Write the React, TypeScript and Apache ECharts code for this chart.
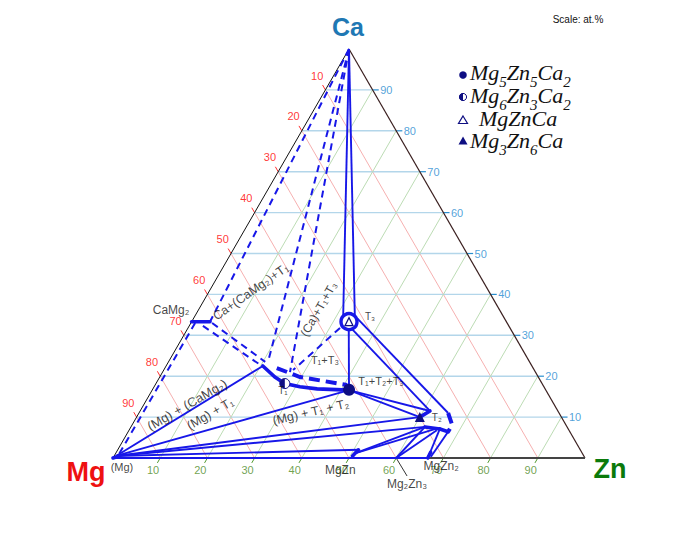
import React, { useEffect, useRef } from "react";
import * as echarts from "echarts";

type Comp = [number, number, number]; // [Mg, Zn, Ca] in at.%

const H = Math.sqrt(3) / 2;

// axis ticks (at.%)
const ticks = [10, 20, 30, 40, 50, 60, 70, 80, 90];

// corners
const CA: Comp = [0, 0, 100];
const MG: Comp = [100, 0, 0];
const ZN: Comp = [0, 100, 0];

// key phase-boundary compositions
const mgSolid: Comp = [99.1, 0.4, 0.5];
const caMg2L: Comp = [66.7, 0, 33.3];
const caMg2R: Comp = [62.8, 3.9, 33.3];
const t1L: Comp = [57.0, 20.5, 22.5];
const t1R: Comp = [41.7, 41.7, 16.6];
const t3L: Comp = [34.4, 31.9, 33.7];
const t3R: Comp = [31.9, 34.4, 33.7];
const t2A: Comp = [30, 60, 10];
const t2B: Comp = [27.1, 61.4, 11.5];
const t2C: Comp = [23.5, 65.5, 11.0];
const t2D: Comp = [24.1, 67.8, 8.1];
const t2E: Comp = [25.8, 67.8, 6.4];
const t2F: Comp = [27.2, 65.7, 7.1];
const t2G: Comp = [30.1, 62.3, 7.6];
const mgZnP: Comp = [48, 50.8, 1.2];
const mgZnP2: Comp = [47, 51, 2];
const mg2Zn3: Comp = [40, 60, 0];
const mgZn2: Comp = [33.3, 66.7, 0];

const solidLines: Comp[][] = [
  [CA, t3L],
  [CA, t3R],
  [[34.3, 34.2, 31.5], t1R],
  [[33.7, 34.5, 31.8], t2B],
  [[31.2, 34.6, 34.2], t2C],
  [t1R, t2B],
  [t1R, t2A],
  [mgSolid, t1L],
  [mgSolid, t1R],
  [mgSolid, t2A],
  [mgSolid, t2G],
  [mgSolid, mgZnP2],
  [mgZnP, t2G],
  [mgZnP, [28.5, 64.5, 7.0]],
  [mg2Zn3, t2G],
  [mg2Zn3, [28, 65.2, 6.8]],
  [mgZn2, t2F],
  [[32.5, 67.2, 0.3], t2E],
  [MG, mgZn2],
];

const thickLines: Comp[][] = [
  [t1L, [55.8, 24.4, 19.8], [54.5, 27.3, 18.2], [51.7, 30.9, 17.4], [48.3, 34.8, 16.9], t1R],
  [caMg2L, caMg2R],
  [t2G, t2F],
  [t2A, t2B],
  [t2E, t2F],
  [[49, 50.5, 0.5], mgZnP2],
  [MG, [98.4, 1.1, 0.5]],
  [mgZn2, [32, 66.6, 1.4]],
];

const dashedLines: Comp[][] = [
  [CA, caMg2R],
  [[66.1, 0.9, 33.0], [98.7, 0.8, 0.5]],
  [CA, [55.4, 21.1, 23.5]],
  [CA, [52, 27, 21]],
  [[36, 32.2, 31.8], [51.1, 27.4, 21.5]],
  [[62.5, 4.5, 33.0], [56.0, 20.5, 23.5]],
  [[64.8, 2.9, 32.3], [57.2, 20.3, 22.5]],
];

const thickDashedLines: Comp[][] = [
  [[54.3, 23.7, 22], [50.5, 29.7, 19.8], [41.5, 40.7, 17.85]],
  [t2C, t2D, t2E],
];

// compounds (markers)
const compoundNames = ["Mg5Zn5Ca2", "Mg6Zn3Ca2", "MgZnCa", "Mg3Zn6Ca"];
const compoundFormula: [string, string][][] = [
  [["Mg", "5"], ["Zn", "5"], ["Ca", "2"]],
  [["Mg", "6"], ["Zn", "3"], ["Ca", "2"]],
  [["Mg", ""], ["Zn", ""], ["Ca", ""]],
  [["Mg", "3"], ["Zn", "6"], ["Ca", ""]],
];
const compoundComp: Comp[] = [
  [41.67, 41.67, 16.67],
  [54.5, 27.3, 18.2],
  [33.33, 33.33, 33.34],
  [30, 60, 10],
];

// phase-field labels
const phaseText = [
  "CaMg₂",
  "Ca+(CaMg₂)+T₁",
  "(Ca)+T₁+T₃",
  "T₃",
  "T₁+T₃",
  "T₁+T₂+T₃",
  "T₁",
  "T₂",
  "(Mg) + (CaMg₂)",
  "(Mg) + T₁",
  "(Mg) + T₁ + T₂",
  "(Mg)",
  "MgZn",
  "MgZn₂",
  "Mg₂Zn₃",
];
const phaseAt: Comp[] = [
  [69.6, -5.8, 36.2],
  [50.5, 8.9, 40.6],
  [38.2, 25.4, 36.4],
  [28.2, 37.1, 34.7],
  [43.1, 32.9, 24.0],
  [33.8, 47.4, 18.8],
  [55.8, 27.8, 16.4],
  [26.4, 63.6, 10.0],
  [77.8, 9.2, 13.0],
  [74.0, 15.2, 10.8],
  [52.4, 36.3, 11.2],
  [99.2, 3.0, -2.2],
  [53.3, 49.6, -2.9],
  [31.5, 70.5, -1.9],
  [40.9, 65.5, -6.4],
];
const phaseRot = [0, 35, 60, 0, 0, 0, 0, 0, 30, 30, 13, 0, 0, 0, 0];
const phaseSize = [12, 12.5, 12, 10, 11, 11, 10, 10, 13, 12.5, 12.5, 11, 12, 12, 12];

const toXY = (c: Comp): [number, number] => [(c[1] + c[2] / 2) / 100, (c[2] / 100) * H];

const BLUE = "#1717e8";
const NAVY = "#0e0e82";

export default function App() {
  const ref = useRef<HTMLDivElement>(null);
  useEffect(() => {
    if (!ref.current) return;
    const chart = echarts.init(ref.current, undefined, { renderer: "svg" });
    const seg = (pts: Comp[], style: any) => ({ coords: pts.map(toXY), lineStyle: { opacity: 1, ...style } });

    const gridData = [
      ...ticks.map((m) => seg([[m, 0, 100 - m], [m, 100 - m, 0]], { color: "#f6b0b0", width: 1 })),
      ...ticks.map((c) => seg([[100 - c, 0, c], [0, 100 - c, c]], { color: "#b3d6ea", width: 1.4 })),
      ...ticks.map((z) => seg([[100 - z, z, 0], [0, z, 100 - z]], { color: "#bcdcb4", width: 1 })),
      ...ticks.map((c) => seg([[0, 100 - c, c], [-1.3, 101.3 - c, c]], { color: "#2b8fcf", width: 1.2 })),
      ...ticks.map((m) => seg([[m, 0, 100 - m], [m, -1.2, 101.2 - m]], { color: "#ff3030", width: 1 })),
      ...ticks.map((z) => seg([[100 - z, z, 0], [101.2 - z, z, -1.2]], { color: "#4f9a2e", width: 1 })),
    ];
    const edgeData = [
      seg([MG, CA], { color: "#111", width: 1 }),
      seg([CA, ZN], { color: "#3a1f1f", width: 1.2 }),
      seg([MG, ZN], { color: "#444", width: 2 }),
      seg([mg2Zn3, [39.9, 64.5, -4.4]], { color: "#333", width: 1 }),
    ];

    const lineSeries = (data: any[], z: number) => ({
      type: "lines",
      coordinateSystem: "cartesian2d",
      polyline: true,
      silent: true,
      clip: false,
      z,
      data,
    });

    const labelSeries = (items: any[]) => ({
      type: "scatter",
      symbolSize: 0,
      silent: true,
      clip: false,
      z: 8,
      data: items,
    });

    const fam = "'Liberation Sans', Arial, 'DejaVu Sans', sans-serif";

    const leftLabels = ticks.map((m) => ({
      value: toXY([m, -3.5, 103.5 - m]),
      label: { show: true, position: "inside", formatter: String(m), color: "#ff0000", fontSize: 11, fontFamily: fam },
    }));
    const rightLabels = ticks.map((c) => ({
      value: toXY([-1.6, 101.6 - c, c]),
      label: { show: true, position: "right", distance: 0, formatter: String(c), color: "#1f8ad0", fontSize: 11, fontFamily: fam },
    }));
    const bottomLabels = ticks.map((z) => ({
      value: toXY([103 - z, z, -3]),
      label: { show: true, position: "inside", formatter: String(z), color: "#4d8a1f", fontSize: 11, fontFamily: fam },
    }));
    const phaseLabels = phaseText.map((t, i) => ({
      value: toXY(phaseAt[i]),
      label: {
        show: true,
        position: "inside",
        formatter: t,
        rotate: phaseRot[i],
        color: "#111",
        fontSize: phaseSize[i],
        fontFamily: fam,
      },
    }));

    // legend (graphic)
    const legendY = [75, 97, 120, 141];
    const textMid = [77, 100, 123, 145];
    const richText = (f: [string, string][]) =>
      f.map(([el, n]) => `{n|${el}}` + (n ? `{s|${n}}` : "")).join("");
    const serif = "'Liberation Serif', 'Times New Roman', serif";
    const legendGraphics: any[] = [];
    compoundNames.forEach((name, i) => {
      const y = legendY[i];
      if (i === 0) legendGraphics.push({ type: "circle", shape: { cx: 463, cy: y, r: 3.8 }, style: { fill: NAVY } });
      if (i === 1) {
        legendGraphics.push({ type: "circle", shape: { cx: 463, cy: y, r: 3.6 }, style: { fill: "#fff", stroke: NAVY, lineWidth: 1 } });
        legendGraphics.push({ type: "sector", shape: { cx: 463, cy: y, r0: 0, r: 3.8, startAngle: Math.PI / 2, endAngle: (3 * Math.PI) / 2 }, style: { fill: NAVY } });
      }
      if (i === 2)
        legendGraphics.push({ type: "polygon", shape: { points: [[463, y - 4], [467.5, y + 3.5], [458.5, y + 3.5]] }, style: { fill: "#fff", stroke: NAVY, lineWidth: 1.2 } });
      if (i === 3)
        legendGraphics.push({ type: "polygon", shape: { points: [[463, y - 4.5], [467.5, y + 3.5], [458.5, y + 3.5]] }, style: { fill: NAVY } });
      legendGraphics.push({
        type: "text",
        x: i === 2 ? 479 : 470,
        y: textMid[i],
        style: {
          text: richText(compoundFormula[i]),
          verticalAlign: "middle",
          rich: {
            n: { fontFamily: serif, fontStyle: "italic", fontSize: 22, lineHeight: 12, padding: [0, 0, 9, 0], fill: "#111" },
            s: { fontFamily: serif, fontStyle: "italic", fontSize: 15, lineHeight: 12, padding: [9, 0, 0, 0], fill: "#111" },
          },
        },
      });
    });

    const option: any = {
      animation: false,
      grid: { left: 113, top: 49, width: 472, height: 409 },
      xAxis: { type: "value", min: 0, max: 1, show: false },
      yAxis: { type: "value", min: 0, max: H, show: false },
      series: [
        lineSeries(gridData, 1),
        lineSeries(edgeData, 2),
        lineSeries(solidLines.map((p) => seg(p, { color: BLUE, width: 1.9 })), 3),
        lineSeries(thickLines.map((p) => seg(p, { color: BLUE, width: 3.6, cap: "round" })), 3),
        lineSeries(dashedLines.map((p) => seg(p, { color: BLUE, width: 2, type: [7, 5] })), 3),
        lineSeries(thickDashedLines.map((p) => seg(p, { color: BLUE, width: 4, type: [11, 6] })), 3),
        // markers
        {
          type: "scatter",
          silent: true,
          clip: false,
          z: 5,
          data: [
            { value: toXY(compoundComp[0]), symbol: "circle", symbolSize: 12, itemStyle: { color: NAVY, opacity: 1 } },
            { value: toXY(compoundComp[1]), symbol: "circle", symbolSize: 10, itemStyle: { color: "#fff", borderColor: NAVY, borderWidth: 1, opacity: 1 } },
            { value: toXY(compoundComp[2]), symbol: "circle", symbolSize: 16, itemStyle: { color: "#fff", borderColor: BLUE, borderWidth: 3.4, opacity: 1 } },
            { value: toXY(compoundComp[3]), symbol: "triangle", symbolSize: 10, itemStyle: { color: NAVY, opacity: 1 } },
          ],
        },
        {
          type: "scatter",
          silent: true,
          clip: false,
          z: 6,
          data: [
            { value: toXY(compoundComp[1]), symbol: "path://M10,0 A10,10 0 0,0 10,20 Z", symbolSize: [5, 10], symbolOffset: [-2.5, 0], itemStyle: { color: NAVY, opacity: 1 } },
            { value: toXY(compoundComp[2]), symbol: "triangle", symbolSize: 8, itemStyle: { color: "#fff", borderColor: NAVY, borderWidth: 1.2, opacity: 1 } },
          ],
        },
        labelSeries(leftLabels),
        labelSeries(rightLabels),
        labelSeries(bottomLabels),
        labelSeries(phaseLabels),
      ],
      graphic: [
        { type: "text", x: 348, y: 27, style: { text: "Ca", fill: "#1f78b4", font: "bold 25px 'Liberation Sans', Arial, sans-serif", align: "center", verticalAlign: "middle" } },
        { type: "text", x: 86, y: 472, style: { text: "Mg", fill: "#ee1111", font: "bold 27px 'Liberation Sans', Arial, sans-serif", align: "center", verticalAlign: "middle" } },
        { type: "text", x: 610, y: 469, style: { text: "Zn", fill: "#0b7a0b", font: "bold 27px 'Liberation Sans', Arial, sans-serif", align: "center", verticalAlign: "middle" } },
        { type: "text", x: 578, y: 19, style: { text: "Scale: at.%", fill: "#111", font: "10px 'Liberation Sans', Arial, sans-serif", align: "center", verticalAlign: "middle" } },
        ...legendGraphics,
      ],
    };
    chart.setOption(option);
    return () => chart.dispose();
  }, []);
  return <div ref={ref} style={{ position: "absolute", left: 0, top: 0, width: 698, height: 550, background: "#fff" }} />;
}
